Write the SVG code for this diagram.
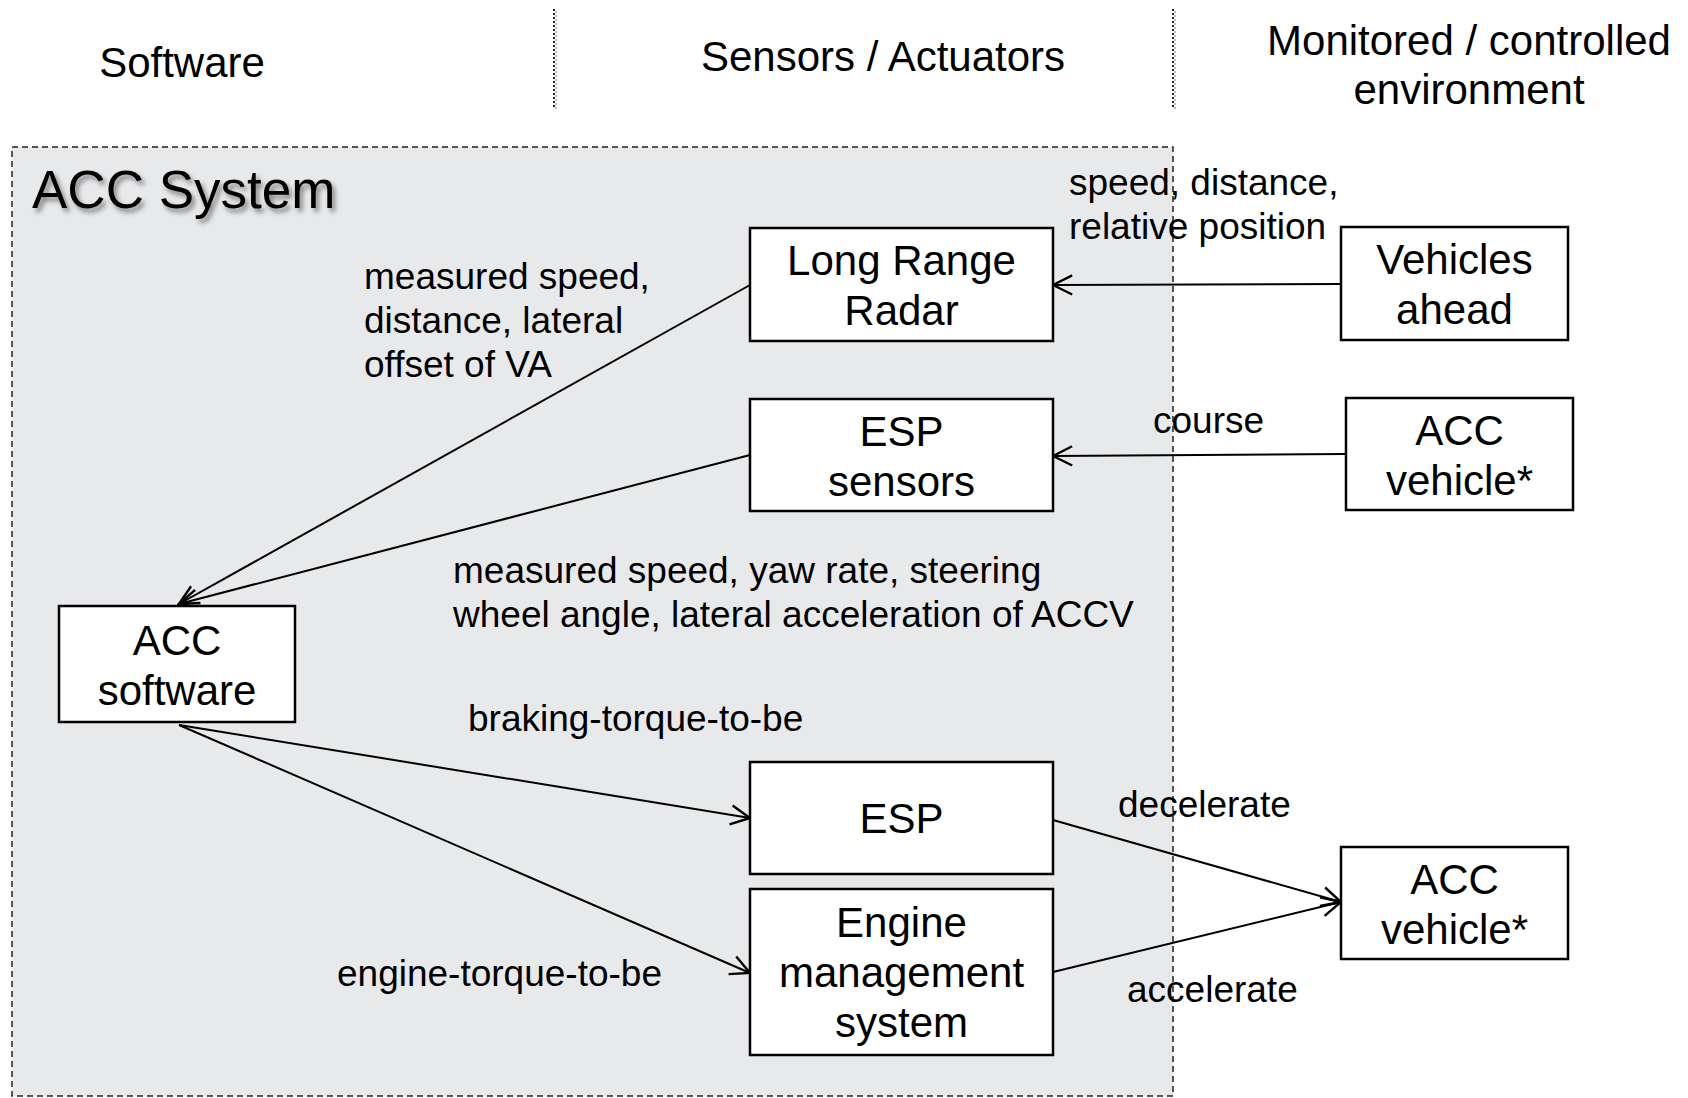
<svg xmlns="http://www.w3.org/2000/svg" width="1688" height="1098" viewBox="0 0 1688 1098">
  <style>
    text { font-family: "Liberation Sans", Arial, sans-serif; fill: #000; }
    .hdr { font-size: 42px; text-anchor: middle; }
    .node rect { fill: #fff; stroke: #000; stroke-width: 2.5; }
    .node text { font-size: 42px; text-anchor: middle; }
    .lbl { font-size: 37px; }
    .conn line { stroke: #000; stroke-width: 2; marker-end: url(#open); }
    .sep { stroke: #222; stroke-width: 2; stroke-dasharray: 2 2; }
    .sep-sh { stroke: #bbb; stroke-width: 2; stroke-dasharray: 2 2; }
  </style>
  <defs>
    <marker id="open" markerUnits="userSpaceOnUse" markerWidth="24" markerHeight="24" viewBox="0 0 20 20" refX="18" refY="10" orient="auto">
      <path d="M2,2 L18,10 L2,18" fill="none" stroke="#000" stroke-width="2"/>
    </marker>
    <filter id="shadow" x="-10%" y="-20%" width="130%" height="150%">
      <feDropShadow dx="3" dy="4" stdDeviation="2.5" flood-color="#000" flood-opacity="0.45"/>
    </filter>
  </defs>

  <rect width="1688" height="1098" fill="#fff"/>

  <!-- column headers and separators -->
  <g id="headers">
    <line class="sep-sh" x1="556" y1="11" x2="556" y2="110"/>
    <line class="sep" x1="554" y1="9" x2="554" y2="108"/>
    <line class="sep-sh" x1="1175" y1="11" x2="1175" y2="110"/>
    <line class="sep" x1="1173" y1="9" x2="1173" y2="108"/>
    <text class="hdr" x="182" y="77">Software</text>
    <text class="hdr" x="883" y="71">Sensors / Actuators</text>
    <text class="hdr" x="1469" y="55">Monitored / controlled</text>
    <text class="hdr" x="1469" y="104">environment</text>
  </g>

  <!-- system boundary -->
  <g id="acc-system">
    <rect x="12" y="147" width="1161" height="949" fill="#e8e9eb" stroke="#222" stroke-width="1.5" stroke-dasharray="6 4"/>
    <text x="32" y="208" font-size="53" filter="url(#shadow)">ACC System</text>
  </g>

  <!-- connectors -->
  <g id="connectors" class="conn">
    <line x1="750" y1="285" x2="179" y2="604"/>
    <line x1="750" y1="455" x2="179" y2="604"/>
    <line x1="1341" y1="284" x2="1053" y2="285"/>
    <line x1="1346" y1="454" x2="1053" y2="456"/>
    <line x1="179" y1="725" x2="750" y2="818"/>
    <line x1="179" y1="725" x2="750" y2="973"/>
    <line x1="1053" y1="820" x2="1341" y2="902"/>
    <line x1="1053" y1="972" x2="1341" y2="902"/>
  </g>

  <!-- connector labels -->
  <g id="labels">
    <text class="lbl" x="364" y="289">measured speed,</text>
    <text class="lbl" x="364" y="333">distance, lateral</text>
    <text class="lbl" x="364" y="377">offset of VA</text>
    <text class="lbl" x="1069" y="195">speed, distance,</text>
    <text class="lbl" x="1069" y="239">relative position</text>
    <text class="lbl" x="1153" y="433">course</text>
    <text class="lbl" x="453" y="583">measured speed, yaw rate, steering</text>
    <text class="lbl" x="453" y="627">wheel angle, lateral acceleration of ACCV</text>
    <text class="lbl" x="468" y="731">braking-torque-to-be</text>
    <text class="lbl" x="1118" y="817">decelerate</text>
    <text class="lbl" x="337" y="986">engine-torque-to-be</text>
    <text class="lbl" x="1127" y="1002">accelerate</text>
  </g>

  <!-- nodes -->
  <g id="long-range-radar" class="node">
    <rect x="750" y="228" width="303" height="113"/>
    <text x="901.5" y="275">Long Range</text>
    <text x="901.5" y="325">Radar</text>
  </g>
  <g id="esp-sensors" class="node">
    <rect x="750" y="399" width="303" height="112"/>
    <text x="901.5" y="446">ESP</text>
    <text x="901.5" y="496">sensors</text>
  </g>
  <g id="acc-software" class="node">
    <rect x="59" y="606" width="236" height="116"/>
    <text x="177" y="655">ACC</text>
    <text x="177" y="705">software</text>
  </g>
  <g id="esp" class="node">
    <rect x="750" y="762" width="303" height="112"/>
    <text x="901.5" y="833">ESP</text>
  </g>
  <g id="engine-management" class="node">
    <rect x="750" y="889" width="303" height="166"/>
    <text x="901.5" y="937">Engine</text>
    <text x="901.5" y="987">management</text>
    <text x="901.5" y="1037">system</text>
  </g>
  <g id="vehicles-ahead" class="node">
    <rect x="1341" y="227" width="227" height="113"/>
    <text x="1454.5" y="274">Vehicles</text>
    <text x="1454.5" y="324">ahead</text>
  </g>
  <g id="acc-vehicle-sensed" class="node">
    <rect x="1346" y="398" width="227" height="112"/>
    <text x="1459.5" y="445">ACC</text>
    <text x="1459.5" y="495">vehicle*</text>
  </g>
  <g id="acc-vehicle-controlled" class="node">
    <rect x="1341" y="847" width="227" height="112"/>
    <text x="1454.5" y="894">ACC</text>
    <text x="1454.5" y="944">vehicle*</text>
  </g>
</svg>
